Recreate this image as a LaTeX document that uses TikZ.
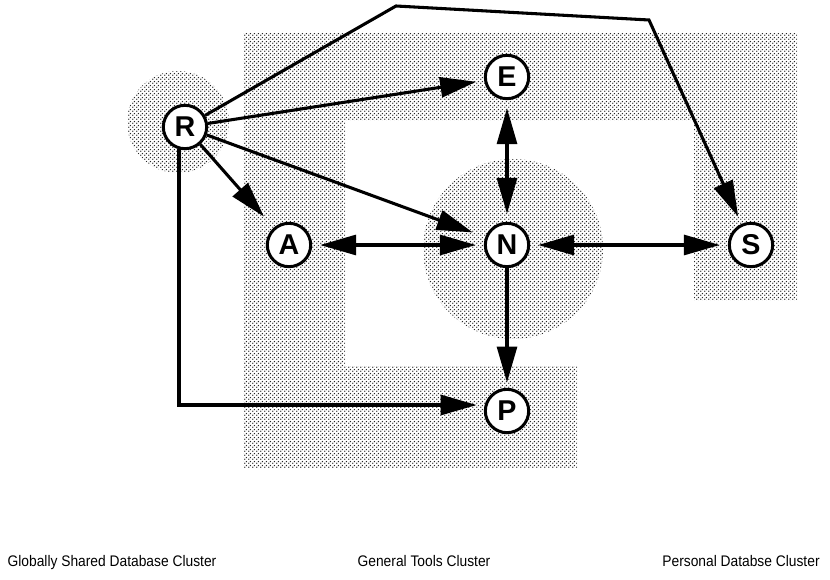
\documentclass[tikz,border=0pt]{standalone}
\usepackage{fontspec}
\setmainfont{Liberation Sans}
\newfontfamily\captionfont[FakeStretch=0.9]{Liberation Sans}
\usetikzlibrary{arrows.meta,patterns.meta}

% fine stipple used for the cluster areas
\tikzdeclarepattern{
  name=stipple,
  type=uncolored,
  bounding box={(0pt,0pt) and (3pt,3pt)},
  tile size={(3pt,3pt)},
  code={
    \pgfpathcircle{\pgfpoint{0.75pt}{0.75pt}}{0.68pt}
    \pgfpathcircle{\pgfpoint{2.25pt}{2.25pt}}{0.68pt}
    \pgfusepath{fill}
  }
}

\begin{document}
\begin{tikzpicture}[x=0.75pt,y=-0.75pt,
  cluster/.style={pattern=stipple, pattern color=black!85},
  site/.style={circle, draw, line width=2.25pt, fill=white, inner sep=0pt,
    minimum size=32.5pt, font=\fontsize{21.5}{22}\selectfont\bfseries},
  tip/.tip={Triangle[length=27pt,width=15pt]},
  link/.style={line width=2.3pt, -tip, shorten >=6pt},
  twoway/.style={line width=2.3pt, tip-tip, shorten >=6pt, shorten <=6pt},
  caption/.style={font=\captionfont\fontsize{11.5}{13}\selectfont, anchor=base}
]
\fill[white] (0,0) rectangle (830,580);
\useasboundingbox (0,0) rectangle (830,580);

% cluster areas
\fill[cluster] (243,33) -- (797,33) -- (797,301) -- (694,301) -- (694,121)
  -- (345,121) -- (345,366) -- (577,366) -- (577,468) -- (243,468) -- cycle;
\fill[cluster] (513,249) circle (90);
\fill[cluster] (178,122) circle (51);

% sites
\node[site] (R) at (185,127) {R};
\node[site] (E) at (507,77) {E};
\node[site] (A) at (289,245) {A};
\node[site] (N) at (507,245) {N};
\node[site] (S) at (751,245) {S};
\node[site] (P) at (507,411) {P};

% bends of the long connectors
\coordinate (k1) at (396,6);
\coordinate (k2) at (649,20);

% connectors
\draw[link] (R.30) -- (k1) -- (k2) -- (S);
\draw[link] (R) -- (E);
\draw[link, shorten >=10pt] (R) -- (N);
\draw[link, shorten >=11pt] (R) -- (A);
\draw[link] (R.-105) |- (P.165);
\draw[twoway] (E) -- (N);
\draw[twoway] (A) -- (N);
\draw[twoway] (N) -- (S);
\draw[link, shorten >=4pt] (N) -- (P);

% legend
\node[caption] (c1) at (112,566) {Globally Shared Database Cluster};
\node[caption] (c2) at (424,566) {General Tools Cluster};
\node[caption] (c3) at (741,566) {Personal Databse Cluster};
\end{tikzpicture}
\end{document}
